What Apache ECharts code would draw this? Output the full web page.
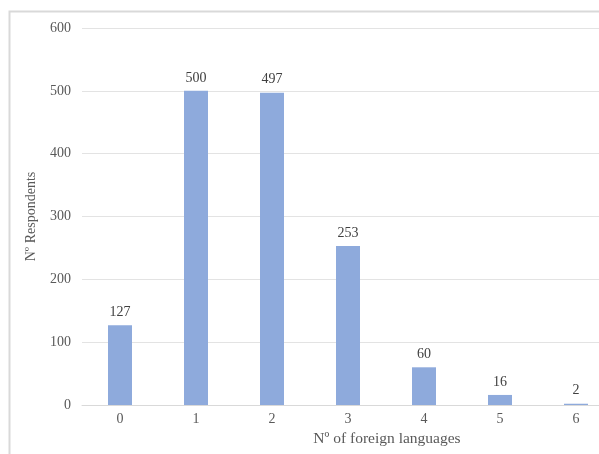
<!DOCTYPE html>
<html>
<head>
<meta charset="utf-8">
<script src="https://cdn.jsdelivr.net/npm/echarts@6/dist/echarts.min.js"></script>
<style>
  html, body { margin: 0; padding: 0; background: #fff; }
  #chart { width: 599px; height: 454px; }
</style>
</head>
<body>
<div id="chart"></div>
<script>
// Number of foreign languages spoken vs. number of respondents
const languageCounts = ['0', '1', '2', '3', '4', '5', '6'];
const respondents = [127, 500, 497, 253, 60, 16, 2];

const textColor = '#595959';
const fontFamily = '"Liberation Serif", "Times New Roman", serif';

const chart = echarts.init(document.getElementById('chart'));
chart.setOption({
  animation: false,
  textStyle: { fontFamily: fontFamily },
  graphic: [{
    type: 'rect',
    shape: { x: 9.5, y: 11.5, width: 700, height: 600 },
    style: { fill: 'none', stroke: '#d9d9d9', lineWidth: 2 },
    silent: true
  }],
  grid: { left: 82, width: 532, top: 28, bottom: 49, outerBoundsMode: 'none' },
  xAxis: {
    type: 'category',
    data: languageCounts,
    name: 'Nº of foreign languages',
    nameLocation: 'middle',
    nameGap: 24,
    nameTextStyle: { color: textColor, fontSize: 15.5, fontFamily: fontFamily, padding: [0, 0, 0, 78] },
    axisLine: { lineStyle: { color: '#d9d9d9', width: 1 } },
    axisTick: { show: false },
    axisLabel: { color: textColor, fontSize: 14, margin: 7, fontFamily: fontFamily }
  },
  yAxis: {
    type: 'value',
    min: 0,
    max: 600,
    interval: 100,
    name: 'Nº Respondents',
    nameLocation: 'middle',
    nameGap: 44,
    nameTextStyle: { color: textColor, fontSize: 14, fontFamily: fontFamily },
    axisLine: { show: false },
    axisTick: { show: false },
    axisLabel: { color: textColor, fontSize: 14, margin: 11, fontFamily: fontFamily },
    splitLine: { lineStyle: { color: '#e3e3e3', width: 1 } }
  },
  series: [{
    type: 'bar',
    data: respondents,
    barWidth: 24,
    itemStyle: { color: '#8eaadc' },
    label: {
      show: true,
      position: 'top',
      distance: 6,
      color: '#404040',
      fontSize: 14,
      fontFamily: fontFamily
    }
  }]
});
</script>
</body>
</html>
